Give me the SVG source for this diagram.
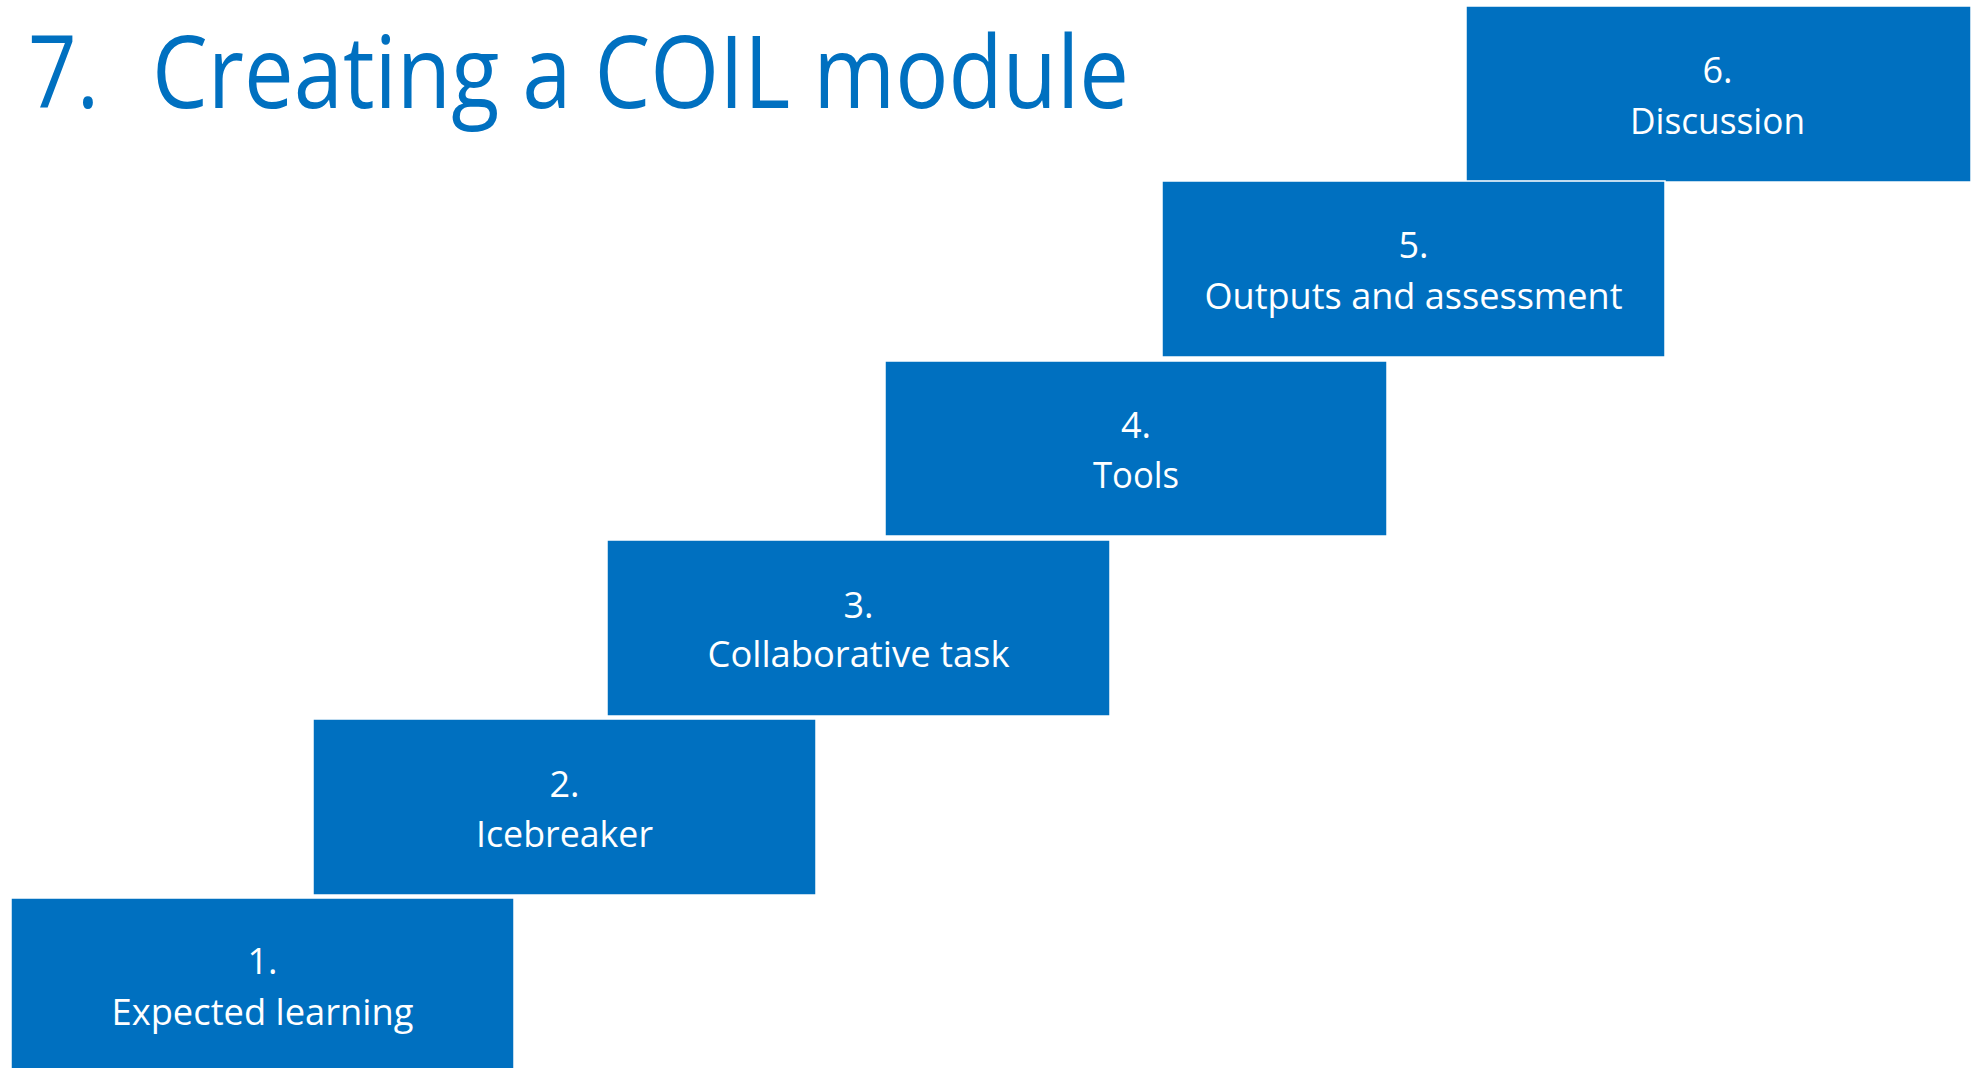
<svg xmlns="http://www.w3.org/2000/svg" width="1971" height="1068" viewBox="0 0 1971 1068">
<style>
.box{fill:#0070C0;stroke:#ffffff;stroke-width:1.5}
.lbl{font-family:"Open Sans","Noto Sans",sans-serif;font-size:36px;fill:#ffffff;text-anchor:middle}
.title{font-family:"Open Sans","Noto Sans",sans-serif;font-size:100px;fill:#0070C0}
</style>
<rect width="1971" height="1068" fill="#ffffff"/>
<text class="title" x="28" y="108" textLength="71" lengthAdjust="spacingAndGlyphs">7.</text>
<text class="title" x="152" y="108" textLength="977" lengthAdjust="spacingAndGlyphs">Creating a COIL module</text>
<g id="connectors"/>
<g id="step6">
<rect class="box" x="1466" y="6" width="505" height="176"/>
<text class="lbl" x="1717.5" y="83">6.</text>
<text class="lbl" x="1717.5" y="134" textLength="175" lengthAdjust="spacingAndGlyphs">Discussion</text>
</g>
<g id="step5">
<rect class="box" x="1162" y="181" width="503" height="176"/>
<text class="lbl" x="1413.5" y="258">5.</text>
<text class="lbl" x="1413.5" y="309" textLength="418" lengthAdjust="spacingAndGlyphs">Outputs and assessment</text>
</g>
<g id="step4">
<rect class="box" x="885" y="361" width="502" height="175"/>
<text class="lbl" x="1136" y="438">4.</text>
<text class="lbl" x="1136" y="488" textLength="86" lengthAdjust="spacingAndGlyphs">Tools</text>
</g>
<g id="step3">
<rect class="box" x="607" y="540" width="503" height="176"/>
<text class="lbl" x="858.5" y="618">3.</text>
<text class="lbl" x="858.5" y="667" textLength="302" lengthAdjust="spacingAndGlyphs">Collaborative task</text>
</g>
<g id="step2">
<rect class="box" x="313" y="719" width="503" height="176"/>
<text class="lbl" x="564.5" y="797">2.</text>
<text class="lbl" x="564.5" y="847" textLength="177" lengthAdjust="spacingAndGlyphs">Icebreaker</text>
</g>
<g id="step1">
<rect class="box" x="11" y="898" width="503" height="180"/>
<text class="lbl" x="262.5" y="974">1.</text>
<text class="lbl" x="262.5" y="1025" textLength="302" lengthAdjust="spacingAndGlyphs">Expected learning</text>
</g>
</svg>
